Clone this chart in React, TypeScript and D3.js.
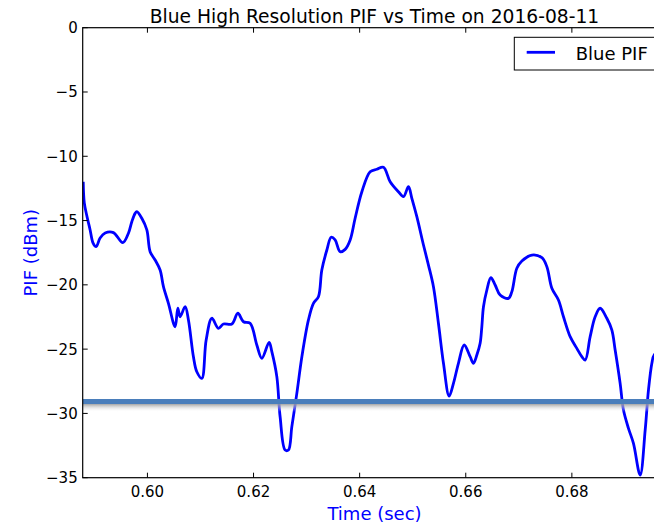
import React from "react";
import * as d3 from "d3";

const times: number[] = [
  0.5879, 0.5881, 0.58863, 0.5892, 0.58976, 0.59033, 0.59108, 0.59203, 0.59359, 0.59536,
  0.59642, 0.59706, 0.59768, 0.598, 0.59894, 0.59989, 0.60051, 0.60145, 0.60239, 0.60302,
  0.60396, 0.60522, 0.60573, 0.60616, 0.60711, 0.60773, 0.60867, 0.60931, 0.61025, 0.61107,
  0.61214, 0.61338, 0.61433, 0.61591, 0.61704, 0.6181, 0.61936, 0.62062, 0.62156, 0.62294,
  0.62345, 0.62439, 0.62501, 0.62596, 0.62658, 0.62722, 0.62816, 0.62911, 0.63035, 0.63129,
  0.63223, 0.63287, 0.63382, 0.63463, 0.63538, 0.63632, 0.63727, 0.63821, 0.63915, 0.64042,
  0.64198, 0.64324, 0.64449, 0.64575, 0.64731, 0.64826, 0.6492, 0.64984, 0.65078, 0.65203,
  0.65297, 0.65391, 0.65485, 0.6558, 0.65687, 0.65768, 0.65862, 0.6597, 0.66083, 0.66145,
  0.66209, 0.66271, 0.66303, 0.66334, 0.66398, 0.66473, 0.66554, 0.66648, 0.66805, 0.66869,
  0.66963, 0.67058, 0.67247, 0.67435, 0.67529, 0.67623, 0.67747, 0.67842, 0.67968, 0.68094,
  0.68188, 0.68251, 0.68345, 0.68439, 0.68533, 0.68659, 0.68753, 0.68816, 0.6891, 0.68973,
  0.69067, 0.69161, 0.69287, 0.69382, 0.69444, 0.69508, 0.69551, 0.6975,
];

const pif: number[] = [
  -11.98, -13.63, -14.72, -15.73, -16.75, -17.03, -16.36, -15.97, -15.94, -16.72,
  -15.99, -15.09, -14.44, -14.31, -14.82, -15.73, -17.42, -18.07, -18.85, -20.14,
  -21.44, -23.26, -21.82, -22.48, -21.7, -22.73, -25.59, -26.76, -27.27, -24.29,
  -22.6, -23.38, -23.05, -23.05, -22.21, -22.87, -22.99, -24.68, -25.71, -24.47,
  -25.2, -27.14, -30.26, -32.85, -32.85, -31.03, -28.44, -25.59, -22.73, -21.44,
  -20.92, -18.85, -17.29, -16.3, -16.51, -17.42, -17.24, -16.51, -14.82, -12.76,
  -11.2, -11.01, -10.86, -11.98, -12.76, -13.14, -12.37, -13.27, -14.7, -16.9,
  -18.46, -20.14, -22.99, -26.1, -28.65, -27.66, -26.1, -24.68, -25.59, -26.1,
  -25.46, -24.55, -23.26, -21.7, -20.4, -19.44, -20.01, -20.79, -21.05, -20.53,
  -18.71, -18.15, -17.68, -17.89, -18.59, -20.27, -21.18, -22.48, -24.03, -24.94,
  -25.59, -25.85, -24.03, -22.48, -21.82, -22.6, -23.51, -25.07, -27.66, -29.74,
  -31.16, -32.33, -34.79, -31.29, -28.18, -26.1, -25.46, -24.9,
];

const thresholdLevel = -29.07;
const xTicks: number[] = [0.6, 0.62, 0.64, 0.66, 0.68];
const yTicks: number[] = [0, -5, -10, -15, -20, -25, -30, -35];
const xDomain: [number, number] = [0.5878, 0.6978];
const yDomain: [number, number] = [-35, 0];

const W = 654;
const H = 526;
const L = 82.7;
const R = 666.3;
const T = 27.7;
const B = 477.7;
const FONT = "DejaVu Sans, sans-serif";

export default function App() {
  const x = d3.scaleLinear().domain(xDomain).range([L, R]);
  const y = d3.scaleLinear().domain(yDomain).range([B, T]);
  const pts: [number, number][] = times.map((t, i) => [t, pif[i]]);
  const line = d3
    .line<[number, number]>()
    .x((d) => x(d[0]))
    .y((d) => y(d[1]))
    .curve(d3.curveCatmullRom.alpha(0.5));
  const yl = y(thresholdLevel);
  const fmt = (v: number) => (v < 0 ? "\u2212" + Math.abs(v) : String(v));

  return (
    <svg
      width={W}
      height={H}
      style={{ position: "absolute", left: 0, top: 0, background: "#fff" }}
      fontFamily={FONT}
    >
      <defs>
        <clipPath id="ax">
          <rect x={L} y={T} width={R - L} height={B - T} />
        </clipPath>
        <linearGradient id="shadow" x1="0" y1="0" x2="0" y2="1">
          <stop offset="0" stopColor="#9a9a9a" stopOpacity={0.9} />
          <stop offset="1" stopColor="#ffffff" stopOpacity={0} />
        </linearGradient>
      </defs>
      <rect x={0} y={0} width={W} height={H} fill="#fff" />
      <g clipPath="url(#ax)">
        <path d={line(pts) || ""} fill="none" stroke="#0000ff" strokeWidth={2.8} strokeLinejoin="round" />
        <rect x={L} y={yl + 2.5} width={R - L} height={8} fill="url(#shadow)" />
        <line x1={L} x2={R} y1={yl} y2={yl} stroke="#4a7ebb" strokeWidth={5} />
      </g>
      <rect x={L} y={T} width={R - L} height={B - T} fill="none" stroke="#000" strokeWidth={1.2} />
      {xTicks.map((t) => (
        <g key={"x" + t}>
          <line x1={x(t)} x2={x(t)} y1={B} y2={B - 5} stroke="#000" strokeWidth={1} />
          <line x1={x(t)} x2={x(t)} y1={T} y2={T + 5} stroke="#000" strokeWidth={1} />
          <text x={x(t)} y={B + 19} textAnchor="middle" fontSize={15} fill="#000">
            {t.toFixed(2)}
          </text>
        </g>
      ))}
      {yTicks.map((v) => (
        <g key={"y" + v}>
          <line x1={L} x2={L + 5} y1={y(v)} y2={y(v)} stroke="#000" strokeWidth={1} />
          <text x={L - 5} y={y(v)} dy="0.36em" textAnchor="end" fontSize={15} fill="#000">
            {fmt(v)}
          </text>
        </g>
      ))}
      <text x={(L + R) / 2} y={22.7} textAnchor="middle" fontSize={18.7} fill="#000">
        Blue High Resolution PIF vs Time on 2016-08-11
      </text>
      <text x={(L + R) / 2} y={520} textAnchor="middle" fontSize={18} fill="#0000ff">
        Time (sec)
      </text>
      <text
        transform={`translate(37,${(T + B) / 2}) rotate(-90)`}
        textAnchor="middle"
        fontSize={18}
        fill="#0000ff"
      >
        PIF (dBm)
      </text>
      <rect x={514.3} y={37.3} width={142} height={32.7} fill="#fff" stroke="#000" strokeWidth={1} />
      <line x1={526.7} x2={555} y1={52.3} y2={52.3} stroke="#0000ff" strokeWidth={2.8} />
      <text x={575.7} y={59.5} fontSize={18} fill="#000">
        Blue PIF
      </text>
    </svg>
  );
}
